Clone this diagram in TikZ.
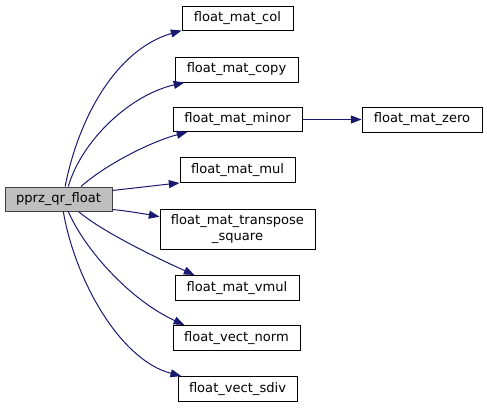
\documentclass[tikz,border=0pt]{standalone}
\usepackage{fontspec}
\setmainfont{DejaVu Sans}
\usetikzlibrary{arrows.meta}
\definecolor{edgeblue}{HTML}{191970}
\definecolor{mainfill}{HTML}{BFBFBF}
\begin{document}
\begin{tikzpicture}[x=0.75pt,y=-0.75pt]
    \tikzstyle{fn}=[draw=black, fill=white, line width=0.75pt, inner sep=0pt, minimum height=18.75pt, align=center, font=\fontsize{9.8}{11.5}\selectfont]
    \tikzstyle{call}=[draw=edgeblue, line width=0.75pt, -{Triangle[length=8pt,width=6pt]}]

    \useasboundingbox (0,0) rectangle (487,408);

    \node[fn, fill=mainfill, draw=black!75, minimum width=80.25pt, minimum height=18pt](pprz) at (58.5, 199) {pprz\_qr\_float};

    \node[fn, minimum width=83.25pt, minimum height=18pt](mat_col) at (237.5, 18) {float\_mat\_col};
    \node[fn, minimum width=92.25pt](mat_copy) at (236.5, 69.5) {float\_mat\_copy};
    \node[fn, minimum width=96.75pt, minimum height=18pt](mat_minor) at (237.5, 119.5) {float\_mat\_minor};
    \node[fn, minimum width=90pt](mat_zero) at (422, 119.5) {float\_mat\_zero};
    \node[fn, minimum width=86.25pt](mat_mul) at (237.5, 170) {float\_mat\_mul};
    \node[fn, minimum width=116.25pt, minimum height=30pt](mat_tr) at (237.5, 229) {float\_mat\_transpose\\\_square};
    \node[fn, minimum width=93pt](mat_vmul) at (237, 288) {float\_mat\_vmul};
    \node[fn, minimum width=95.25pt](vect_norm) at (236.5, 338) {float\_vect\_norm};
    \node[fn, minimum width=89.25pt](vect_sdiv) at (237.5, 389) {float\_vect\_sdiv};

    \draw[call] (pprz.62) .. controls (78,120) and (115,50) .. (mat_col.south west);
    \draw[call] (pprz.52) .. controls (82,140) and (130,95) .. (mat_copy.194);
    \draw[call] (pprz.29) .. controls (105,165) and (150,142) .. (mat_minor.194);
    \draw[call] (pprz.9) .. controls (135,188) and (160,185) .. (mat_mul.south west);
    \draw[call] (pprz.-11) .. controls (128,211) and (145,214) .. (mat_tr.171);
    \draw[call] (pprz.-32) .. controls (100,230) and (150,255) .. (mat_vmul.163);
    \draw[call] (pprz.-52) .. controls (85,250) and (130,300) .. (vect_norm.166);
    \draw[call] (pprz.-69) .. controls (75,280) and (120,360) .. (vect_sdiv.167);
    \draw[call] (mat_minor.east) -- (mat_zero.west);

\end{tikzpicture}
\end{document}
